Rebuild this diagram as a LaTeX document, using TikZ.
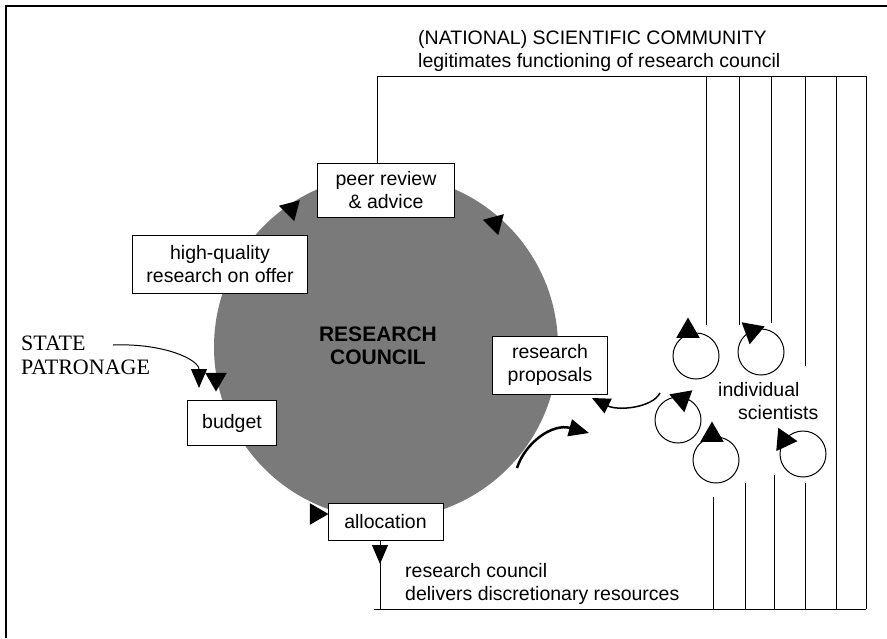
\documentclass[tikz,border=0pt]{standalone}
\usepackage{fontspec}
\setmainfont{Liberation Sans}
\newfontfamily\patronfont{Liberation Serif}
\usetikzlibrary{shapes.geometric,arrows.meta}

\tikzset{
    stagebox/.style={draw, fill=white, line width=1pt, align=center, inner sep=2pt,
        font=\fontsize{19.5}{22.5}\selectfont},
    headmark/.style={regular polygon, regular polygon sides=3, fill=black,
        inner sep=0pt, minimum size=25pt, rotate=#1-90},
    scientist/.style={circle, draw, line width=1pt, minimum size=46pt, inner sep=0pt},
    plaintext/.style={font=\fontsize{19.5}{22.5}\selectfont, align=left, inner sep=0pt},
    wire/.style={line width=1pt},
}

\begin{document}
\begin{tikzpicture}[x=1pt, y=-1pt]
    \useasboundingbox (0,0) rectangle (887,638);
    \draw[line width=2pt] (6,638) -- (6,6) -- (887,6);

    \node[circle, fill=black!52, minimum size=344pt, inner sep=0pt] (councildisc) at (386,347) {};
    \node[font=\bfseries\fontsize{21}{23}\selectfont, align=center] (council) at (378,346) {RESEARCH\\COUNCIL};

    \node[stagebox, minimum width=137pt, minimum height=54pt] (peer) at (386,190) {peer review\\\& advice};
    \node[stagebox, minimum width=175pt, minimum height=58pt] (quality) at (220,264) {high-quality\\research on offer};
    \node[stagebox, minimum width=89pt, minimum height=45pt] (budget) at (232,423) {budget};
    \node[stagebox, minimum width=115pt, minimum height=37pt] (allocation) at (385.5,522) {allocation};
    \node[stagebox, minimum width=115pt, minimum height=58pt] (proposals) at (550,365) {research\\proposals};

    \node[plaintext, anchor=west] (community) at (418,51)
        {(NATIONAL) SCIENTIFIC COMMUNITY\\legitimates functioning of research council};
    \node[plaintext, anchor=west] (delivers) at (405,584)
        {research council\\delivers discretionary resources};
    \node[plaintext, font=\patronfont\fontsize{22}{24}\selectfont, anchor=west] (state) at (21,355)
        {STATE\\PATRONAGE};
    \node[plaintext, anchor=west] (scientists) at (718,401) {individual\\\hspace*{20pt}scientists};

    \node[headmark=45] (toPeer) at (291,209) {};
    \node[headmark=-75] (toProposals) at (495,223) {};
    \node[headmark=-90] (toBudget) at (216,379) {};
    \node[headmark=0] (toAllocation) at (316,514) {};

    \node[scientist] (sc1) at (696,356) {};
    \node[scientist] (sc2) at (761,352) {};
    \node[scientist] (sc3) at (678,420) {};
    \node[scientist] (sc4) at (716,460) {};
    \node[scientist] (sc5) at (803,454) {};
    \node[headmark=90, minimum size=27pt] (turn1) at (688,331) {};
    \node[headmark=-100, minimum size=27pt] (turn2) at (752,331) {};
    \node[headmark=-80, minimum size=27pt] (turn3) at (682,399) {};
    \node[headmark=90, minimum size=27pt] (turn4) at (712,435) {};
    \node[headmark=-5, minimum size=27pt] (turn5) at (784,440) {};

    \coordinate (topleft) at (377,76);
    \coordinate (topright) at (866,76);
    \coordinate (botleft) at (374,609);
    \coordinate (botright) at (866,609);
    \draw[wire] (peer.north -| topleft) -- (topleft) -- (topright);
    \draw[wire] (botleft) -- (botright);
    \foreach \xa/\ya/\xb/\yb in {706/325/713/497, 739/325/745/483, 771/323/774/475, 805/366/805/483}{
        \draw[wire] (\xa,76) -- (\xa,\ya);
        \draw[wire] (\xb,\yb) -- (\xb,609);
    }
    \foreach \xc in {836,866}
        \draw[wire] (\xc,76) -- (\xc,609);

    \coordinate (allocout) at (380,541);
    \draw[wire, -{Triangle[length=19pt,width=16pt]}] (allocout) -- (allocout |- 0,564);
    \draw[wire] (allocout |- 0,560) -- (allocout |- botleft);

    \coordinate (stateout) at (113,345);
    \coordinate (budgetin) at (199,400);
    \draw[wire, -{Triangle[length=19pt,width=16pt]}, shorten >=12pt]
        (stateout) .. controls (165,343) and (199,360) .. (budgetin);

    \coordinate (discout) at (517,468);
    \coordinate (towardsci) at (589,433);
    \draw[line width=2.5pt, -{Triangle[length=20pt,width=17pt]}]
        (discout) .. controls (525,443) and (552,423) .. (towardsci);

    \coordinate (scienceout) at (660,393);
    \coordinate (proposalin) at (592,398);
    \draw[line width=1.5pt, -{Triangle[length=18pt,width=16pt]}]
        (scienceout) .. controls (652,408) and (618,411) .. (proposalin);
\end{tikzpicture}
\end{document}
